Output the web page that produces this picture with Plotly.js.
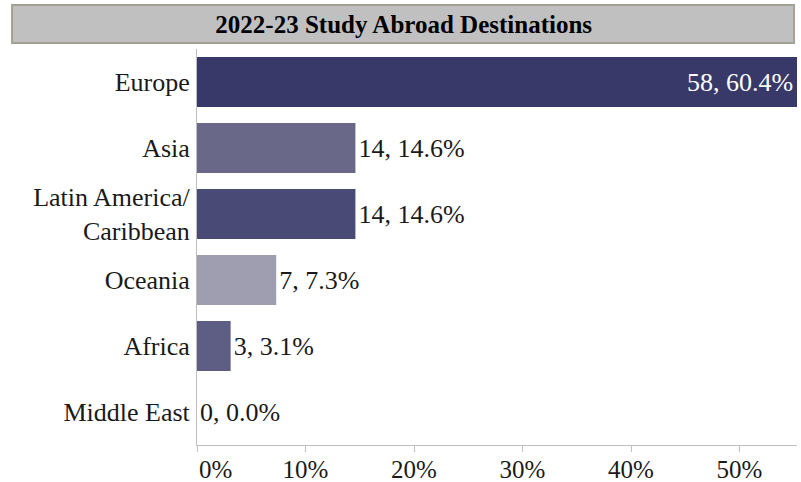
<!DOCTYPE html>
<html>
<head>
<meta charset="utf-8">
<script src="https://cdn.plot.ly/plotly-3.0.1.min.js"></script>
<style>html,body{margin:0;padding:0;background:#fff;}#chart{width:801px;height:482px;}</style>
</head>
<body>
<div id="chart"></div>
<script>
const categories = ["Europe", "Asia", "Latin America/<br>Caribbean", "Oceania", "Africa", "Middle East"];
const counts = [58, 14, 14, 7, 3, 0];
const percents = [60.4, 14.6, 14.6, 7.3, 3.1, 0.0];
const barColors = ["#383869", "#6a6889", "#4a4a77", "#9f9db0", "#5e5d84", "#8a88b0"];
const tickValues = [0, 0.1, 0.2, 0.3, 0.4, 0.5];
const tickLabels = ["\u2007\u2007\u20070%", "10%", "20%", "30%", "40%", "50%"];

const FONT = "Liberation Serif";
const X_MAX = 0.553;

const shares = percents.map(p => p / 100);
const labels = counts.map((c, i) => c + ", " + percents[i].toFixed(1) + "%");
// bars that run past the axis end carry their label inside the visible end
const overflow = shares.map(s => s > X_MAX);

const trace = {
  type: "bar",
  orientation: "h",
  y: categories,
  x: shares,
  text: labels.map((t, i) => overflow[i] ? "" : t),
  textposition: "outside",
  constraintext: "none",
  textfont: {family: FONT, size: 26, color: "#1a1a1a"},
  outsidetextfont: {family: FONT, size: 26, color: "#1a1a1a"},
  marker: {color: barColors, line: {width: 0}},
  hoverinfo: "skip",
  cliponaxis: true
};

const annotations = labels.map((t, i) => overflow[i] ? {
  x: X_MAX, y: categories[i], xref: "x", yref: "y",
  text: t, showarrow: false, xanchor: "right", xshift: -2,
  font: {family: FONT, size: 26, color: "#ffffff"}
} : null).filter(a => a);

const layout = {
  width: 801,
  height: 482,
  margin: {l: 197, r: 4, t: 49, b: 37, pad: 0},
  paper_bgcolor: "#ffffff",
  plot_bgcolor: "#ffffff",
  showlegend: false,
  bargap: 0.24,
  font: {family: FONT, color: "#1a1a1a"},
  title: {
    text: "<b>2022-23 Study Abroad Destinations</b>",
    font: {family: FONT, size: 25, color: "#000000"},
    x: 0.504, xref: "container", xanchor: "center",
    y: 0.95, yref: "container", yanchor: "middle"
  },
  xaxis: {
    range: [0, X_MAX],
    tickvals: tickValues,
    ticktext: tickLabels,
    ticks: "outside",
    ticklen: 6,
    tickcolor: "#bfbfbf",
    tickfont: {family: FONT, size: 25, color: "#1a1a1a"},
    ticklabelstandoff: -4,
    showline: true,
    linecolor: "#bfbfbf",
    linewidth: 1,
    showgrid: false,
    zeroline: false,
    fixedrange: true
  },
  yaxis: {
    type: "category",
    categoryorder: "array",
    categoryarray: categories,
    autorange: "reversed",
    ticks: "",
    tickfont: {family: FONT, size: 26, color: "#1a1a1a"},
    ticklabelstandoff: 1,
    showline: true,
    linecolor: "#bfbfbf",
    linewidth: 1,
    showgrid: false,
    zeroline: false,
    fixedrange: true
  },
  annotations: annotations,
  shapes: [{
    type: "rect",
    xref: "paper", yref: "paper",
    x0: -0.3083, x1: 0.995,
    y0: 1.0152, y1: 1.1111,
    fillcolor: "#c0c0c0",
    line: {color: "#a3a294", width: 2},
    layer: "below"
  }]
};

Plotly.newPlot("chart", [trace], layout, {staticPlot: true, displayModeBar: false});
</script>
</body>
</html>
